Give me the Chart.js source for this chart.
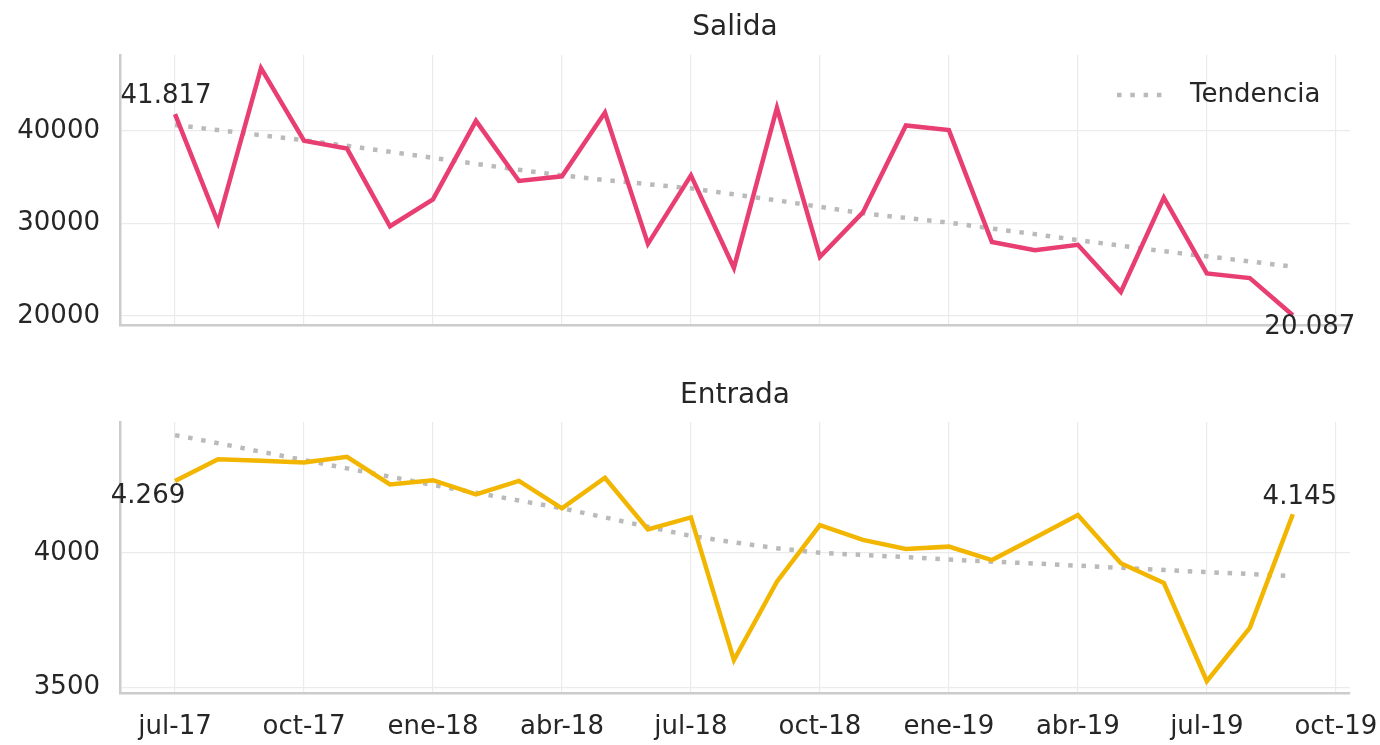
<!DOCTYPE html>
<html>
<head>
<meta charset="utf-8">
<script src="https://cdn.jsdelivr.net/npm/chart.js@4"></script>
<style>
	body { margin: 0; background: #fff; }
	#topBox { position: absolute; left: 0; top: 0; width: 1380px; height: 360px; }
	#bottomBox { position: absolute; left: 0; top: 360px; width: 1380px; height: 385px; }
</style>
</head>
<body>
<div id="topBox"><canvas id="salidaCanvas"></canvas></div>
<div id="bottomBox"><canvas id="entradaCanvas"></canvas></div>
<script>
// monthly values, jul-17 .. sep-19
const months = [
	"jul-17", "ago-17", "sep-17", "oct-17", "nov-17", "dic-17",
	"ene-18", "feb-18", "mar-18", "abr-18", "may-18", "jun-18",
	"jul-18", "ago-18", "sep-18", "oct-18", "nov-18", "dic-18",
	"ene-19", "feb-19", "mar-19", "abr-19", "may-19", "jun-19",
	"jul-19", "ago-19", "sep-19"
];
const xTickLabels = ["jul-17", "oct-17", "ene-18", "abr-18", "jul-18", "oct-18", "ene-19", "abr-19", "jul-19", "oct-19"];

const salida = [
	41817, 30100, 46800, 38950, 38100, 29700, 32600, 41100, 34600,
	35100, 42000, 27800, 35200, 25200, 42500, 26400, 31200, 40600,
	40100, 28000, 27100, 27700, 22600, 32800, 24600, 24100, 20087
];
const salidaTrend = [
	40650, 40100, 39550, 39000, 38400, 37750, 37100, 36450, 35800,
	35200, 34700, 34250, 33800, 33150, 32500, 31800, 31100, 30600,
	30100, 29450, 28850, 28200, 27600, 27000, 26450, 25900, 25330
];
const entrada = [
	4269, 4350, 4344, 4338, 4359, 4256, 4272, 4219, 4269,
	4167, 4281, 4088, 4133, 3601, 3893, 4104, 4049, 4015,
	4024, 3974, 4057, 4142, 3962, 3889, 3522, 3721, 4145
];
const entradaTrend = [
	4440, 4410, 4378, 4347, 4316, 4285, 4254, 4225, 4196,
	4167, 4133, 4098, 4064, 4040, 4018, 4001, 3993, 3985,
	3976, 3968, 3961, 3953, 3945, 3937, 3929, 3922, 3914
];
const salidaTicks = [20000, 30000, 40000];
const entradaTicks = [3500, 4000];

const textColor = "#262626";
const gridColor = "#ebebeb";
const spineColor = "#cccccc";
const trendColor = "#bababa";
const trendDash = [4.5, 8.8];

Chart.defaults.font.family = "'DejaVu Sans', sans-serif";
Chart.defaults.color = textColor;

const toPoints = (values) => values.map((v, i) => ({ x: i, y: v }));

const formatNumber = (v) => String(v).replace(/\B(?=(\d{3})+(?!\d))/g, ".");

// first/last value labels and the "Tendencia" legend inside the plot
const endLabels = {
	id: "endLabels",
	afterDatasetsDraw(chart, args, opts) {
		const ctx = chart.ctx;
		const pts = chart.getDatasetMeta(0).data;
		const vals = chart.data.datasets[0].data;
		const last = pts.length - 1;
		ctx.save();
		ctx.font = "26px 'DejaVu Sans'";
		ctx.fillStyle = textColor;
		ctx.textAlign = "center";
		ctx.textBaseline = "middle";
		ctx.fillText(formatNumber(vals[0].y), pts[0].x + opts.first[0], pts[0].y + opts.first[1]);
		ctx.fillText(formatNumber(vals[last].y), pts[last].x + opts.last[0], pts[last].y + opts.last[1]);
		if (opts.legend) {
			const area = chart.chartArea;
			const y = area.top + 40;
			ctx.strokeStyle = trendColor;
			ctx.lineWidth = 4.5;
			ctx.setLineDash(trendDash);
			ctx.beginPath();
			ctx.moveTo(area.right - 233, y);
			ctx.lineTo(area.right - 188, y);
			ctx.stroke();
			ctx.setLineDash([]);
			ctx.textAlign = "left";
			ctx.fillText(chart.data.datasets[1].label, area.right - 160, y);
		}
		ctx.restore();
	}
};

const makeChart = (canvas, opts) => {
	return new Chart(canvas, {
		type: "line",
		data: {
			datasets: [
				{
					label: opts.name,
					data: toPoints(opts.values),
					borderColor: opts.color,
					borderWidth: 4.5,
					pointRadius: 0,
					tension: 0,
					order: 0
				},
				{
					label: "Tendencia",
					data: toPoints(opts.trend),
					borderColor: trendColor,
					borderWidth: 4.5,
					borderDash: trendDash,
					borderCapStyle: "butt",
					pointRadius: 0,
					tension: 0,
					order: 1
				}
			]
		},
		options: {
			responsive: true,
			maintainAspectRatio: false,
			animation: false,
			layout: { padding: { left: 0, right: 30, top: 0, bottom: 0 } },
			plugins: {
				legend: { display: false },
				tooltip: { enabled: false },
				title: {
					display: true,
					text: opts.name,
					fullSize: false,
					color: textColor,
					font: { size: 28, weight: "normal" },
					padding: opts.titlePadding
				},
				endLabels: opts.labels
			},
			scales: {
				x: {
					type: "linear",
					min: -1.28,
					max: 27.33,
					afterBuildTicks: (s) => {
						s.ticks = xTickLabels.map((l, i) => ({ value: i * 3 }));
					},
					afterFit: (s) => {
						s.height = opts.xHeight;
						s.paddingLeft = 0;
						s.paddingRight = 0;
					},
					ticks: {
						display: opts.showX,
						padding: 19,
						font: { size: 26 },
						color: textColor,
						callback: (v) => xTickLabels[v / 3]
					},
					grid: { color: gridColor, lineWidth: 1.2, drawTicks: false },
					border: { color: spineColor, width: 2.5 }
				},
				y: {
					min: opts.min,
					max: opts.max,
					afterBuildTicks: (s) => {
						s.ticks = opts.yTicks.map((v) => ({ value: v }));
					},
					afterFit: (s) => {
						s.width = 120;
						s.paddingTop = 0;
						s.paddingBottom = 0;
					},
					ticks: {
						padding: 20,
						font: { size: 26 },
						color: textColor,
						callback: (v) => String(v)
					},
					grid: { color: gridColor, lineWidth: 1.2, drawTicks: false },
					border: { color: spineColor, width: 2.5 }
				}
			}
		},
		plugins: [endLabels]
	});
};

makeChart(document.getElementById("salidaCanvas"), {
	name: "Salida",
	values: salida,
	trend: salidaTrend,
	color: "#e83e72",
	min: 19027,
	max: 48216,
	yTicks: salidaTicks,
	titlePadding: { top: 11, bottom: 10.4 },
	xHeight: 35,
	showX: false,
	labels: { first: [-9, -18], last: [17, 12], legend: true }
});

makeChart(document.getElementById("entradaCanvas"), {
	name: "Entrada",
	values: entrada,
	trend: entradaTrend,
	color: "#f2b600",
	min: 3478,
	max: 4489,
	yTicks: entradaTicks,
	titlePadding: { top: 19, bottom: 9.4 },
	xHeight: 52,
	showX: true,
	labels: { first: [-27, 15], last: [7, -17], legend: false }
});
</script>
</body>
</html>
